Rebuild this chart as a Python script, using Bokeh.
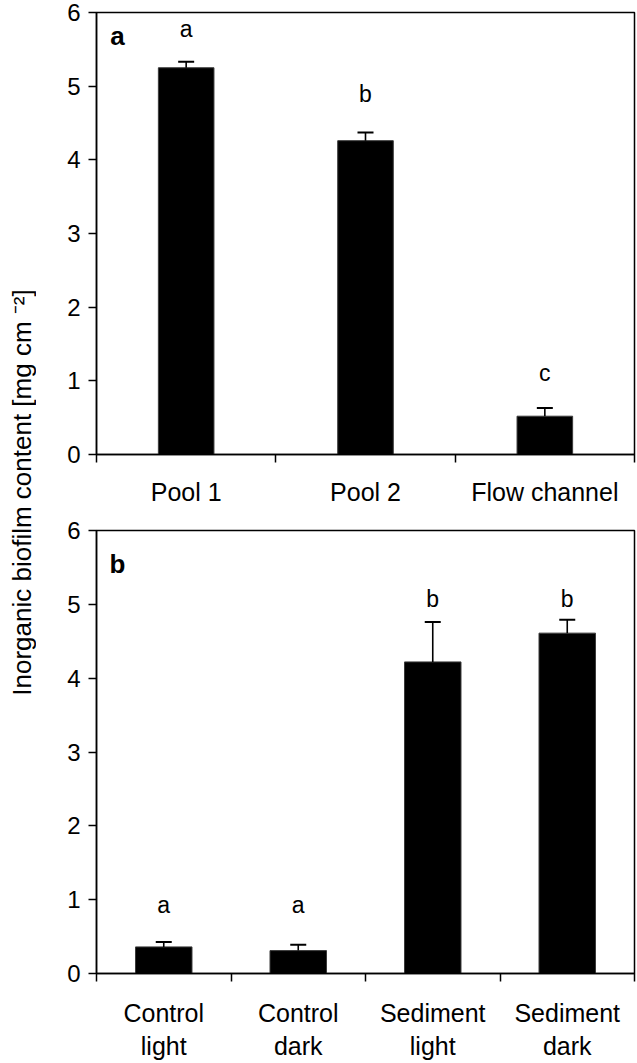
from math import pi

from bokeh.core.properties import value
from bokeh.embed import file_html
from bokeh.layouts import column, row
from bokeh.models import ColumnDataSource, FixedTicker, Label, Range1d, TeeHead, Whisker
from bokeh.plotting import figure
from bokeh.resources import INLINE

FONT = "Liberation Sans"

# Panel a: sampling sites
sites = ["Pool 1", "Pool 2", "Flow channel"]
site_mean = [5.25, 4.26, 0.52]
site_err = [0.08, 0.11, 0.11]
site_groups = ["a", "b", "c"]
site_letter_y = [5.78, 4.89, 1.10]

# Panel b: incubation treatments
treatments = ["Control\nlight", "Control\ndark", "Sediment\nlight", "Sediment\ndark"]
treat_mean = [0.36, 0.31, 4.22, 4.61]
treat_err = [0.065, 0.08, 0.54, 0.18]
treat_groups = ["a", "a", "b", "b"]
treat_letter_y = [0.93, 0.93, 5.07, 5.07]

y_ticks = [0, 1, 2, 3, 4, 5, 6]
y_label = "Inorganic biofilm content [mg cm \u207b\u00b2]"


def bar_panel(cats, means, errs, groups, letter_y, tag, tag_x, tag_y,
              bar_width, height, border_top, border_bottom, label_standoff):
    n = len(cats)
    centers = [i + 0.5 for i in range(n)]
    p = figure(width=601, height=height,
               x_range=Range1d(0, n), y_range=Range1d(0, 6),
               output_backend="svg", toolbar_location=None,
               min_border_left=60, min_border_right=3,
               min_border_top=border_top, min_border_bottom=border_bottom)
    p.xgrid.visible = False
    p.ygrid.visible = False
    p.outline_line_color = "black"
    p.outline_line_width = 1.5
    p.background_fill_color = "white"
    p.border_fill_color = "white"

    src = ColumnDataSource(dict(
        x=centers, top=means,
        upper=[m + e for m, e in zip(means, errs)],
        grp=groups, ly=letter_y,
    ))
    p.vbar(x="x", top="top", bottom=0, width=bar_width, source=src,
           fill_color="black", line_color="#3a3a3a", line_width=1)

    whisk = Whisker(base="x", lower="top", upper="upper", source=src,
                    dimension="height", line_color="black", line_width=1.6,
                    upper_head=TeeHead(size=16, line_color="black", line_width=2),
                    lower_head=None, level="overlay")
    p.add_layout(whisk)

    p.text(x="x", y="ly", text="grp", source=src,
           text_font=value(FONT), text_font_size="23px",
           text_align="center", text_baseline="middle", text_color="black")

    p.add_layout(Label(x=tag_x, y=tag_y, text=tag, text_font=FONT,
                       text_font_size="26px", text_font_style="bold",
                       text_align="center", text_baseline="middle",
                       text_color="black"))

    # x axis: category names at bar centres, tick marks at group boundaries
    xa = p.xaxis[0]
    xa.ticker = FixedTicker(ticks=centers, minor_ticks=list(range(n + 1)))
    xa.major_label_overrides = {c: lab for c, lab in zip(centers, cats)}
    xa.major_tick_out = 0
    xa.major_tick_in = 0
    xa.minor_tick_out = 8
    xa.minor_tick_in = 0
    xa.minor_tick_line_color = "black"
    xa.minor_tick_line_width = 1.5
    xa.axis_line_color = "black"
    xa.axis_line_width = 1.5
    xa.major_label_text_font = FONT
    xa.major_label_text_font_size = "25px"
    xa.major_label_text_color = "black"
    xa.major_label_standoff = label_standoff

    ya = p.yaxis[0]
    ya.ticker = FixedTicker(ticks=y_ticks)
    ya.major_tick_out = 8
    ya.major_tick_in = 0
    ya.minor_tick_out = 0
    ya.minor_tick_in = 0
    ya.major_tick_line_color = "black"
    ya.major_tick_line_width = 1.5
    ya.axis_line_color = "black"
    ya.axis_line_width = 1.5
    ya.major_label_text_font = FONT
    ya.major_label_text_font_size = "24px"
    ya.major_label_text_color = "black"
    ya.major_label_standoff = 8
    return p


pa = bar_panel(sites, site_mean, site_err, site_groups, site_letter_y,
               "a", 0.117, 5.68, 0.31, 512, 12, 58, 15)
pb = bar_panel(treatments, treat_mean, treat_err, treat_groups, treat_letter_y,
               "b", 0.156, 5.55, 0.42, 551, 18, 88, 17)

# shared y-axis title, drawn in a narrow strip left of both panels
lab = figure(width=36, height=1063, x_range=Range1d(0, 36), y_range=Range1d(0, 1063),
             x_axis_type=None, y_axis_type=None,
             output_backend="svg", toolbar_location=None, min_border=0)
lab.grid.visible = False
lab.outline_line_color = None
lab.add_layout(Label(x=21, y=1063 - 492, text=y_label, angle=pi / 2,
                     text_font=FONT, text_font_size="26px", text_color="black",
                     text_align="center", text_baseline="middle"))

layout = row(lab, column(pa, pb))

with open("out.html", "w") as f:
    f.write(file_html(layout, INLINE))
